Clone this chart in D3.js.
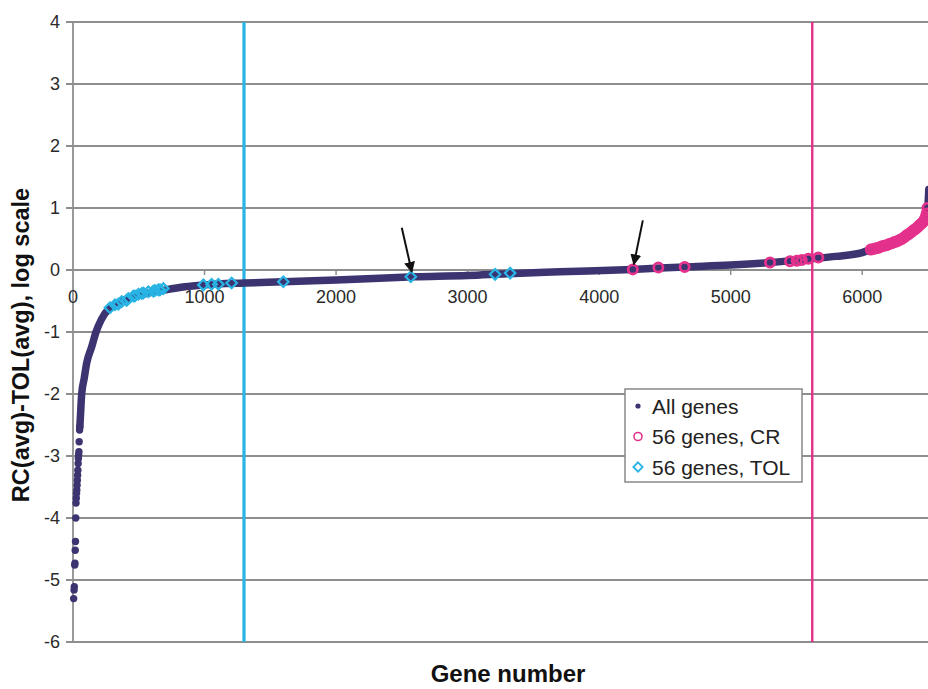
<!DOCTYPE html>
<html>
<head>
<meta charset="utf-8">
<script src="https://cdn.jsdelivr.net/npm/d3@7"></script>
<style>
  body { margin: 0; background: #fff; }
  svg { display: block; font-family: "Liberation Sans", Arial, sans-serif; }
</style>
</head>
<body>
<div id="chart"></div>
<script>
// left tail of the sorted curve, drawn as single dots
const tailGenes = [5, 8, 10, 13, 15, 17, 19, 21, 23, 25, 27, 29, 31, 33, 35, 37, 39, 41, 43, 45, 47, 50, 52];
const tailValues = [-5.30, -5.16, -5.11, -4.76, -4.73, -4.52, -4.38, -4.00, -3.76, -3.68, -3.60, -3.55, -3.47,
  -3.39, -3.31, -3.23, -3.12, -3.04, -2.98, -2.93, -2.77, -2.58, -2.53];

// the rest of the curve (all genes), read at points along it
const curveGenes = [52, 58, 66, 85, 104, 142, 175, 215, 281, 345, 420, 500, 580, 680, 850, 1000, 1300, 1600,
  2000, 2600, 3000, 3300, 3700, 4250, 4650, 5000, 5300, 5600, 5800, 6000, 6060, 6260, 6340, 6410, 6465, 6490, 6500, 6506];
const curveValues = [-2.53, -2.3, -2.0, -1.75, -1.5, -1.24, -1.0, -0.8, -0.61, -0.53, -0.46, -0.41, -0.37, -0.33,
  -0.27, -0.24, -0.21, -0.19, -0.16, -0.11, -0.09, -0.06, -0.03, 0.01, 0.05, 0.08, 0.12, 0.18, 0.22, 0.28, 0.33,
  0.46, 0.56, 0.67, 0.78, 0.91, 1.05, 1.3];

// 56 genes, TOL
const tolGenes = [281, 319, 345, 370, 408, 421, 459, 471, 497, 522, 535, 573, 611, 623, 649, 661, 687,
  991, 1054, 1105, 1206, 1599, 2568, 3209, 3323];
const tolValues = [-0.61, -0.56, -0.55, -0.51, -0.49, -0.46, -0.42, -0.42, -0.39, -0.38, -0.37, -0.35, -0.34,
  -0.33, -0.32, -0.32, -0.30, -0.24, -0.23, -0.23, -0.21, -0.19, -0.11, -0.07, -0.05];

// 56 genes, CR
const crGenes = [4256, 4450, 4650, 5299, 5451, 5502, 5540, 5590, 5666,
  6065, 6085, 6105, 6125, 6145, 6165, 6185, 6205, 6225, 6245, 6262, 6280, 6300, 6320, 6338, 6355,
  6372, 6390, 6405, 6420, 6435, 6450, 6464, 6475, 6484, 6490, 6496];
const crValues = [0.01, 0.04, 0.05, 0.12, 0.14, 0.15, 0.16, 0.18, 0.20,
  0.33, 0.34, 0.35, 0.36, 0.38, 0.39, 0.40, 0.42, 0.43, 0.45, 0.46, 0.48, 0.50, 0.53, 0.56, 0.58,
  0.61, 0.64, 0.66, 0.69, 0.72, 0.75, 0.78, 0.82, 0.86, 0.91, 1.0];

const cutoffGenes = [1300, 5620];
const arrowGenes = [2568, 4256];
const arrowValues = [-0.11, 0.01];

const xTicks = [0, 1000, 2000, 3000, 4000, 5000, 6000];
const yTicks = [-6, -5, -4, -3, -2, -1, 0, 1, 2, 3, 4];

const legendLabels = ["All genes", "56 genes, CR", "56 genes, TOL"];

const width = 928, height = 689;
const navy = "#3b3470", cyan = "#28b4e4", pink = "#e4318c", grid = "#8e8e8e";

const svg = d3.select("#chart").append("svg")
  .attr("width", width)
  .attr("height", height);

const x = d3.scaleLinear().domain([0, 6500]).range([73, 928]);
const y = d3.scaleLinear().domain([-6, 4]).range([642, 22]);

// horizontal grid lines
svg.append("g").selectAll("line")
  .data(yTicks)
  .enter().append("line")
  .attr("x1", 66).attr("x2", width)
  .attr("y1", d => y(d)).attr("y2", d => y(d))
  .attr("stroke", grid).attr("stroke-width", 1.8);

// y axis line
svg.append("line")
  .attr("x1", x(0)).attr("x2", x(0))
  .attr("y1", y(4)).attr("y2", y(-6))
  .attr("stroke", grid).attr("stroke-width", 1.8);

// y tick labels
svg.append("g").selectAll("text")
  .data(yTicks)
  .enter().append("text")
  .attr("x", 60)
  .attr("y", d => y(d))
  .attr("dy", "0.36em")
  .attr("text-anchor", "end")
  .attr("font-size", 18)
  .attr("fill", "#2a2a2a")
  .text(d => d);

// x ticks sit on the zero line
svg.append("g").selectAll("line")
  .data(xTicks.slice(1))
  .enter().append("line")
  .attr("x1", d => x(d)).attr("x2", d => x(d))
  .attr("y1", y(0)).attr("y2", y(0) + 5)
  .attr("stroke", grid).attr("stroke-width", 1.5);

svg.append("g").selectAll("text")
  .data(xTicks)
  .enter().append("text")
  .attr("x", d => x(d))
  .attr("y", y(0) + 27)
  .attr("dy", "0.36em")
  .attr("text-anchor", "middle")
  .attr("font-size", 18)
  .attr("fill", "#2a2a2a")
  .text(d => d);

// cutoff lines
svg.append("g").selectAll("line")
  .data(cutoffGenes)
  .enter().append("line")
  .attr("x1", d => x(d)).attr("x2", d => x(d))
  .attr("y1", y(4)).attr("y2", y(-6))
  .attr("stroke", (d, i) => i === 0 ? cyan : pink)
  .attr("stroke-width", (d, i) => i === 0 ? 3.2 : 2.4);

// all genes curve
const curve = curveGenes.map((g, i) => [g, curveValues[i]]);
svg.append("path")
  .datum(curve)
  .attr("fill", "none")
  .attr("stroke", navy)
  .attr("stroke-width", 7.5)
  .attr("stroke-linecap", "round")
  .attr("d", d3.line().x(d => x(d[0])).y(d => y(d[1])).curve(d3.curveMonotoneX));

svg.append("g").selectAll("circle")
  .data(tailGenes.map((g, i) => [g, tailValues[i]]))
  .enter().append("circle")
  .attr("cx", d => x(d[0]))
  .attr("cy", d => y(d[1]))
  .attr("r", 3.7)
  .attr("fill", navy);

// TOL markers (hollow diamonds)
const diamond = d3.symbol().type(d3.symbolDiamond2).size(70);
svg.append("g").selectAll("path")
  .data(tolGenes.map((g, i) => [g, tolValues[i]]))
  .enter().append("path")
  .attr("transform", d => `translate(${x(d[0])},${y(d[1])})`)
  .attr("d", diamond)
  .attr("fill", "none")
  .attr("stroke", cyan)
  .attr("stroke-width", 2.2);

// CR markers (hollow circles)
svg.append("g").selectAll("circle")
  .data(crGenes.map((g, i) => [g, crValues[i]]))
  .enter().append("circle")
  .attr("cx", d => x(d[0]))
  .attr("cy", d => y(d[1]))
  .attr("r", 4.6)
  .attr("fill", "none")
  .attr("stroke", pink)
  .attr("stroke-width", 2.8);

// arrows
svg.append("defs").append("marker")
  .attr("id", "head")
  .attr("viewBox", "0 0 10 10")
  .attr("refX", 9).attr("refY", 5)
  .attr("markerWidth", 5.5).attr("markerHeight", 5.5)
  .attr("orient", "auto")
  .append("path").attr("d", "M0,0L10,5L0,10z").attr("fill", "#111");

const arrowDx = [-9, 10];
svg.append("g").selectAll("line")
  .data(arrowGenes)
  .enter().append("line")
  .attr("x1", (d, i) => x(d) + arrowDx[i])
  .attr("y1", (d, i) => y(arrowValues[i]) - 49)
  .attr("x2", (d, i) => x(d) + 1)
  .attr("y2", (d, i) => y(arrowValues[i]) - 5)
  .attr("stroke", "#111")
  .attr("stroke-width", 2)
  .attr("marker-end", "url(#head)");

// legend
const legend = svg.append("g").attr("transform", "translate(625,389)");
legend.append("rect")
  .attr("width", 177).attr("height", 93)
  .attr("fill", "#fff")
  .attr("stroke", "#888").attr("stroke-width", 1.5);

const rows = legend.selectAll("g")
  .data(legendLabels)
  .enter().append("g")
  .attr("transform", (d, i) => `translate(0,${17 + i * 30.5})`);

rows.append("text")
  .attr("x", 27)
  .attr("dy", "0.36em")
  .attr("font-size", 21)
  .attr("fill", "#222")
  .text(d => d);

rows.filter((d, i) => i === 0).append("circle")
  .attr("cx", 13).attr("r", 2.6).attr("fill", navy);
rows.filter((d, i) => i === 1).append("circle")
  .attr("cx", 13).attr("r", 4).attr("fill", "none")
  .attr("stroke", pink).attr("stroke-width", 1.6);
rows.filter((d, i) => i === 2).append("path")
  .attr("transform", "translate(13,0)")
  .attr("d", d3.symbol().type(d3.symbolDiamond2).size(55))
  .attr("fill", "none")
  .attr("stroke", cyan).attr("stroke-width", 1.8);

// axis titles
svg.append("text")
  .attr("x", 508).attr("y", 682)
  .attr("text-anchor", "middle")
  .attr("font-size", 24)
  .attr("font-weight", "bold")
  .attr("fill", "#111")
  .text("Gene number");

svg.append("text")
  .attr("transform", "translate(21,345) rotate(-90)")
  .attr("text-anchor", "middle")
  .attr("dy", "0.35em")
  .attr("font-size", 23.5)
  .attr("font-weight", "bold")
  .attr("fill", "#111")
  .text("RC(avg)-TOL(avg), log scale");
</script>
</body>
</html>
